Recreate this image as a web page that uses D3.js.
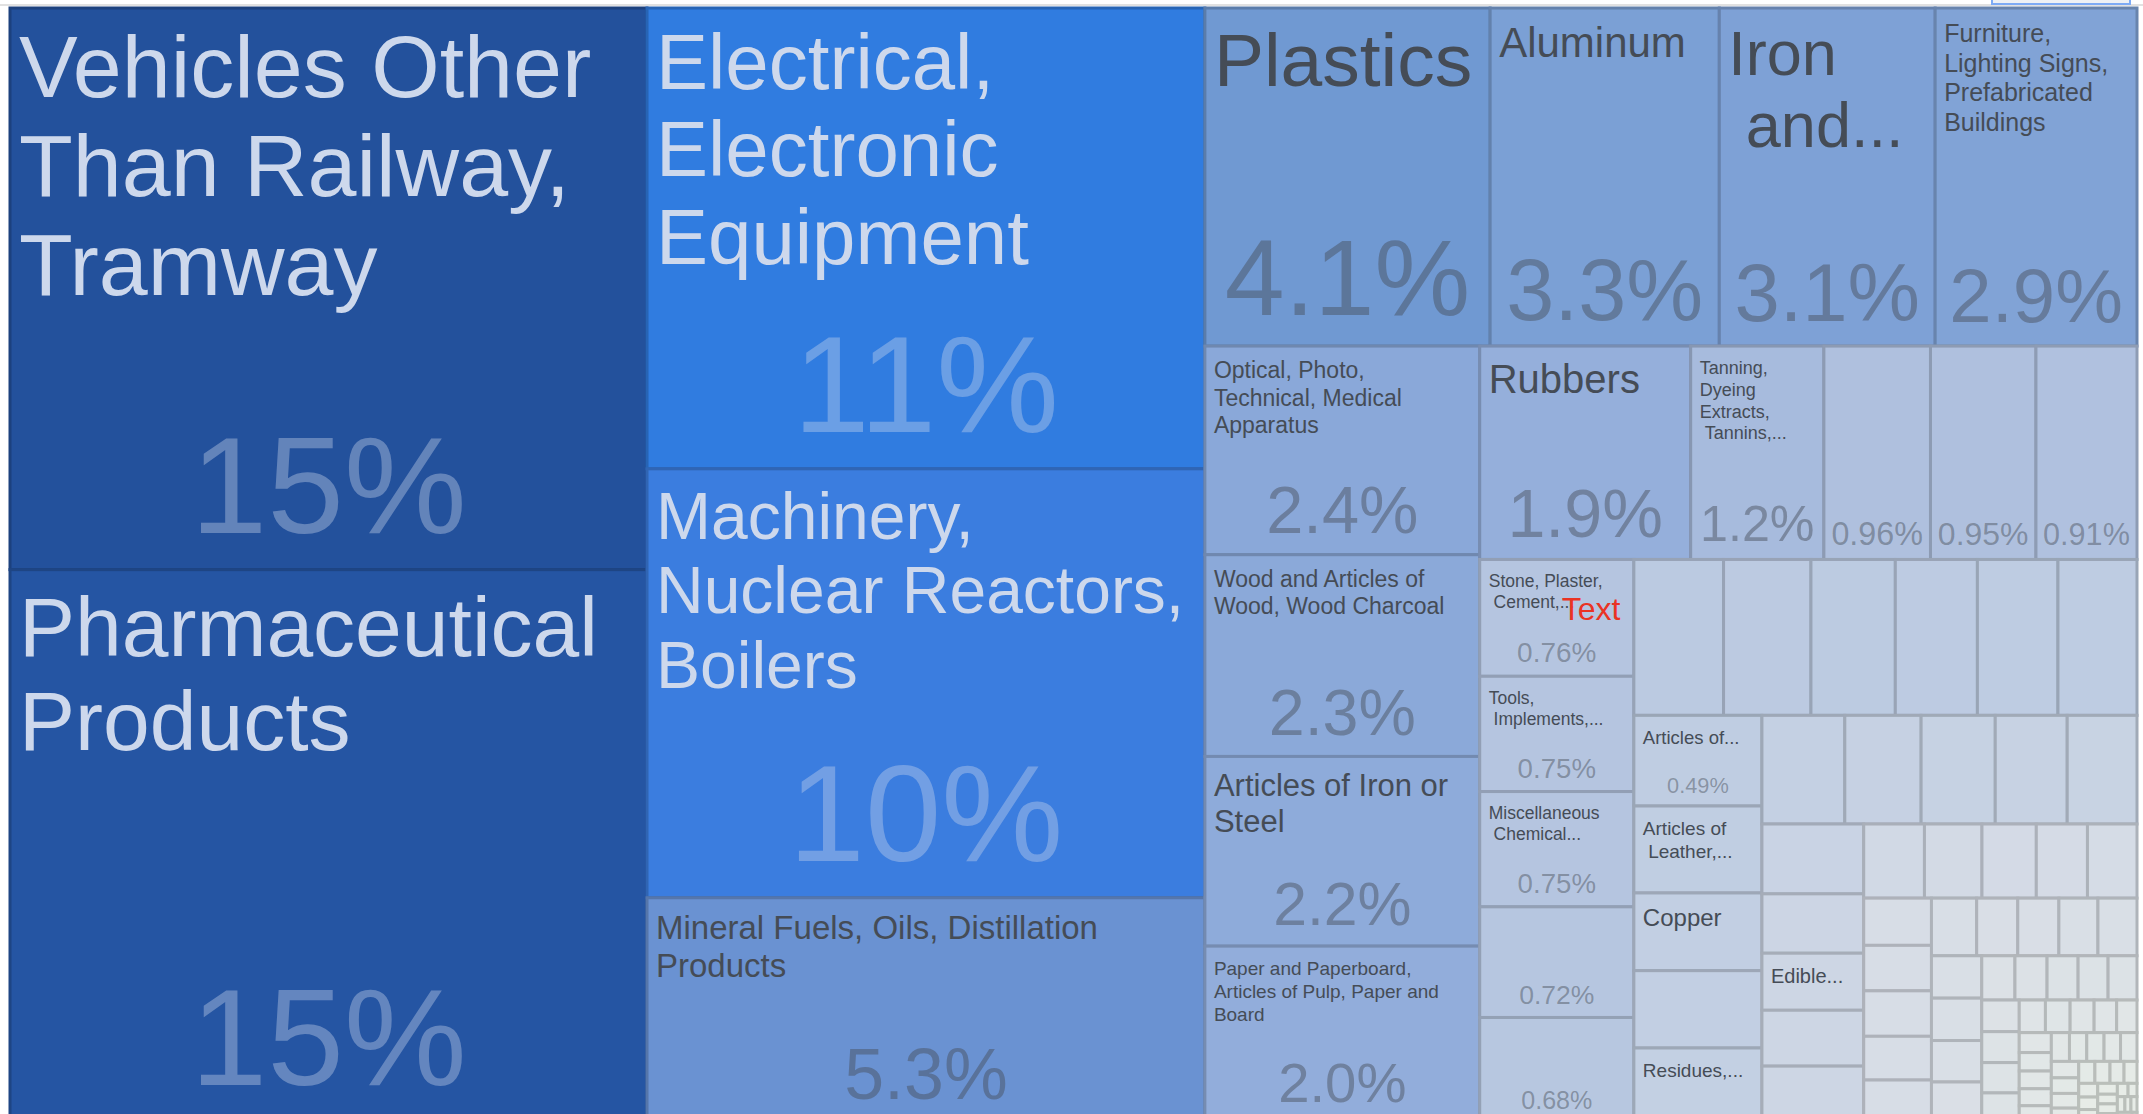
<!DOCTYPE html>
<html>
<head>
<meta charset="utf-8">
<script src="https://cdn.jsdelivr.net/npm/d3@7"></script>
<style>
  html, body { margin: 0; padding: 0; background: #fff; overflow: hidden; }
  svg { display: block; font-family: "Liberation Sans", Arial, Helvetica, sans-serif; }
</style>
</head>
<body>
<svg id="chart"></svg>
<script>
// ---- data: export shares (%) ----
const labeledNames = [
  "Vehicles Other Than Railway, Tramway",
  "Pharmaceutical Products",
  "Electrical, Electronic Equipment",
  "Machinery, Nuclear Reactors, Boilers",
  "Mineral Fuels, Oils, Distillation Products",
  "Plastics",
  "Aluminum",
  "Iron and...",
  "Furniture, Lighting Signs, Prefabricated Buildings",
  "Optical, Photo, Technical, Medical Apparatus",
  "Wood and Articles of Wood, Wood Charcoal",
  "Articles of Iron or Steel",
  "Paper and Paperboard, Articles of Pulp, Paper and Board",
  "Rubbers",
  "Tanning, Dyeing Extracts, Tannins,...",
  "Stone, Plaster, Cement,...",
  "Tools, Implements,...",
  "Miscellaneous Chemical...",
  "Articles of...",
  "Articles of Leather,...",
  "Copper",
  "Residues,...",
  "Edible..."
];
const labeledShares = [15.1, 14.85, 10.85, 10.1, 5.28, 4.07, 3.27, 3.08, 2.88, 2.42, 2.34, 2.2, 2.04,
  1.9, 1.2, 0.76, 0.75, 0.75, 0.49, 0.47, 0.42, 0.40, 0.245];

// tiles too small to carry a name
const otherShares = [0.96, 0.95, 0.91, 0.72, 0.68,
  0.59, 0.575, 0.555, 0.54, 0.53, 0.52, 0.418,
  0.38, 0.35, 0.34, 0.33, 0.32,
  0.30, 0.255, 0.24, 0.24,
  0.19, 0.18, 0.17, 0.16, 0.155,
  0.135, 0.13, 0.13, 0.125, 0.12,
  0.11, 0.1, 0.1, 0.095, 0.095,
  0.09, 0.09, 0.088, 0.085,
  0.062, 0.06, 0.058, 0.056, 0.054,
  0.05, 0.049, 0.048, 0.046,
  0.036, 0.034, 0.033, 0.031,
  0.028, 0.027, 0.025, 0.024,
  0.023, 0.022, 0.022, 0.021, 0.021, 0.02, 0.02, 0.019, 0.018, 0.017,
  0.016, 0.015, 0.014, 0.013, 0.012, 0.011, 0.01, 0.01, 0.009, 0.008,
  0.008, 0.007, 0.006, 0.005, 0.005, 0.004, 0.004, 0.003, 0.003, 0.002];

// name label font sizes (px), as the original renderer sized them
const nameFont = {
  "Vehicles Other Than Railway, Tramway": 88,
  "Pharmaceutical Products": 84,
  "Electrical, Electronic Equipment": 78,
  "Machinery, Nuclear Reactors, Boilers": 66,
  "Mineral Fuels, Oils, Distillation Products": 33,
  "Plastics": 75,
  "Aluminum": 42,
  "Iron and...": 63,
  "Furniture, Lighting Signs, Prefabricated Buildings": 25,
  "Optical, Photo, Technical, Medical Apparatus": 23,
  "Wood and Articles of Wood, Wood Charcoal": 23,
  "Articles of Iron or Steel": 31,
  "Paper and Paperboard, Articles of Pulp, Paper and Board": 19,
  "Rubbers": 40,
  "Tanning, Dyeing Extracts, Tannins,...": 18,
  "Stone, Plaster, Cement,...": 17.5,
  "Tools, Implements,...": 17.5,
  "Miscellaneous Chemical...": 17.5,
  "Articles of...": 18.5,
  "Articles of Leather,...": 19,
  "Copper": 24,
  "Residues,...": 19,
  "Edible...": 20
};

// colour ramp on share (log)
const colorStops = [0.01, 0.15, 0.5, 1, 2, 4.1, 5.3, 10.2, 10.9, 14.8, 15.2];
const colorRange = ["#e7ece7", "#d6dce6", "#bfcde2", "#aebfde", "#93aedb", "#7099d2",
  "#6a92d2", "#3a7ddf", "#2f7ce0", "#2556a4", "#224f9a"];

// ---- dimensions ----
const W = 2143, H = 1114;
const margin = { top: 8, right: 6, bottom: -8, left: 10 };
const mapW = W - margin.left - margin.right;
const mapH = H - margin.top - margin.bottom;

const svg = d3.select('#chart').attr('width', W).attr('height', H);

// bits of page chrome visible at the top of the capture
svg.append('line')
  .attr('x1', 0).attr('x2', W).attr('y1', 5).attr('y2', 5)
  .attr('stroke', '#e1e1e1').attr('stroke-width', 2);
svg.append('rect')
  .attr('x', 1992).attr('y', -6).attr('width', 138).attr('height', 10)
  .attr('fill', '#eef1f5').attr('stroke', '#7eabf5').attr('stroke-width', 2);

const graph = svg.append('g').attr('transform', `translate(${margin.left},${margin.top})`);

const color = d3.scaleLog().domain(colorStops).range(colorRange)
  .interpolate(d3.interpolateRgb).clamp(true);

const nodes = labeledNames.map((name, i) => ({ name, value: labeledShares[i] }))
  .concat(otherShares.map(v => ({ name: '', value: v })));

const root = d3.hierarchy({ children: nodes })
  .sum(d => d.value)
  .sort((a, b) => b.value - a.value);
d3.treemap().size([mapW, mapH]).tile(d3.treemapSquarify)(root);

const total = root.value;
const fmt = d3.format('.2r');
const leaves = root.leaves();

// tiles
graph.selectAll('rect.tile')
  .data(leaves)
  .join('rect')
  .attr('class', 'tile')
  .attr('x', d => d.x0)
  .attr('y', d => d.y0)
  .attr('width', d => d.x1 - d.x0)
  .attr('height', d => d.y1 - d.y0)
  .attr('fill', d => color(d.value))
  .attr('stroke', d => d3.color(color(d.value)).darker(0.6))
  .attr('stroke-width', 3);

// text helpers
const measurer = svg.append('text').attr('visibility', 'hidden');
const textWidth = (str, fs) => {
  measurer.attr('font-size', fs).text(str);
  return measurer.node().getComputedTextLength();
};
const wrap = (str, fs, maxW) => {
  const words = str.split(' ');
  const lines = [];
  let line = words[0];
  words.slice(1).forEach(w => {
    const test = line + ' ' + w;
    if (textWidth(test, fs) <= maxW) line = test;
    else { lines.push(line); line = w; }
  });
  lines.push(line);
  if (lines.length > 1 && str.endsWith('...')) lines[lines.length - 1] = '\u00a0' + lines[lines.length - 1];
  return lines;
};
const isDark = fill => {
  const c = d3.rgb(fill);
  return (c.r * 299 + c.g * 587 + c.b * 114) / 1000 < 128;
};

const labels = graph.append('g');
const pad = 10;

leaves.forEach(d => {
  const w = d.x1 - d.x0, h = d.y1 - d.y0;
  const fill = color(d.value);
  const dark = isDark(fill);
  const txtColor = dark ? '#cdd8ec' : '#454c56';
  let nameBlock = 0;

  if (d.data.name) {
    const fs = nameFont[d.data.name];
    const lh = fs * 1.1 + 2;
    const lines = wrap(d.data.name, fs, w - 2 * pad);
    nameBlock = 8 + lines.length * lh;
    labels.append('text')
      .attr('font-size', fs)
      .attr('fill', txtColor)
      .attr('xml:space', 'preserve')
      .selectAll('tspan')
      .data(lines)
      .join('tspan')
      .attr('x', d.x0 + pad - 1)
      .attr('y', (l, i) => d.y0 + 12 + fs * 0.88 + i * lh)
      .text(l => l);
  }

  // share label
  if (w >= 95 && h >= 80 && h - nameBlock >= 45) {
    const str = fmt(d.value / total * 100) + '%';
    const em = textWidth(str, 100) / 100;
    const fs = Math.min(138, (h < 160 ? 0.24 : 0.32) * h, 0.86 * w / em);
    labels.append('text')
      .attr('x', (d.x0 + d.x1) / 2)
      .attr('y', d.y1 - 0.21 * fs - 8)
      .attr('text-anchor', 'middle')
      .attr('font-size', fs)
      .attr('fill', txtColor)
      .attr('fill-opacity', dark ? 0.38 : 0.45)
      .text(str);
  }
});

// stray red annotation sitting on the stone/plaster tile
const stone = leaves.find(d => d.data.name.startsWith('Stone'));
labels.append('text')
  .attr('x', stone.x0 + 82)
  .attr('y', stone.y0 + 61)
  .attr('font-size', 32)
  .attr('fill', '#ea3323')
  .text('Text');

measurer.remove();
</script>
</body>
</html>
